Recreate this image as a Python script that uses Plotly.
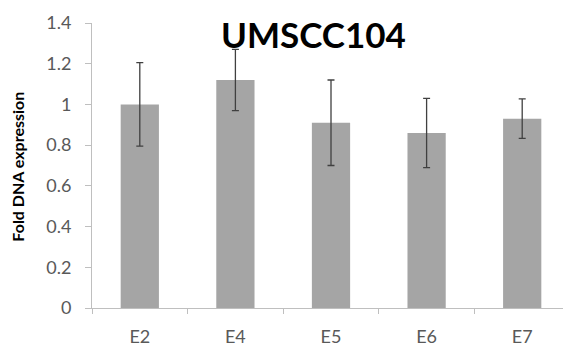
import plotly.graph_objects as go

categories = ["E2", "E4", "E5", "E6", "E7"]
values = [1.0, 1.12, 0.91, 0.86, 0.93]
errors = [0.205, 0.15, 0.21, 0.17, 0.097]
y_ticks = [0, 0.2, 0.4, 0.6, 0.8, 1, 1.2, 1.4]
y_tick_labels = ["0", "0.2", "0.4", "0.6", "0.8", "1", "1.2", "1.4"]
title_text = "UMSCC104"
y_title = "Fold DNA expression"

fig = go.Figure(go.Bar(
    x=categories, y=values,
    marker=dict(color="#a5a5a5", line=dict(width=0)),
    error_y=dict(type="data", array=errors, visible=True,
                 color="#404040", thickness=1.3, width=3.5),
))

# page body has an 8px margin, so the figure is placed at (8, 8)
fig.update_layout(
    width=563, height=338,
    margin=dict(l=84, r=1, t=15, b=38, autoexpand=False),
    paper_bgcolor="white", plot_bgcolor="white",
    bargap=0.6, showlegend=False,
    font=dict(family="Lato, Open Sans, sans-serif", color="#595959"),
    annotations=[
        dict(text="<b>" + title_text + "</b>", x=0.464, y=1 - 11/285, xref="paper", yref="paper",
             xanchor="center", yanchor="middle", showarrow=False,
             font=dict(size=35, color="black", family="Lato, sans-serif")),
        dict(text="<b>" + y_title + "</b>", x=(18 - 92) / 478, y=0.496, xref="paper", yref="paper",
             xanchor="center", yanchor="middle", textangle=-90, showarrow=False,
             font=dict(size=16, color="black", family="Lato, sans-serif")),
    ],
)

fig.update_xaxes(
    showline=True, linecolor="#bfbfbf", linewidth=1,
    ticks="outside", ticklen=5, tickcolor="#bfbfbf", tickson="boundaries",
    tickfont=dict(size=18, color="#595959"), showgrid=False, ticklabelstandoff=12,
)
fig.update_yaxes(
    range=[0, 1.4], tickvals=y_ticks, ticktext=y_tick_labels,
    showline=True, linecolor="#bfbfbf", linewidth=1,
    ticks="outside", ticklen=6, tickcolor="#bfbfbf",
    tickfont=dict(size=18, color="#595959"), showgrid=False, zeroline=False,
    ticklabelstandoff=10,
)

fig.write_html("out.html")
